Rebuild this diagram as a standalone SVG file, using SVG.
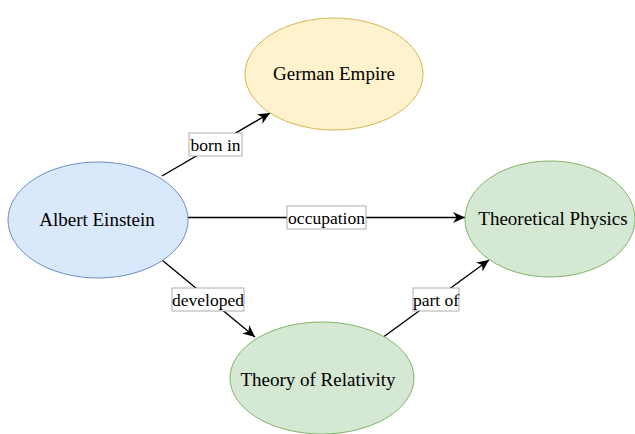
<svg xmlns="http://www.w3.org/2000/svg" width="635" height="434" viewBox="0 0 635 434">
<defs>
<marker id="arr" markerUnits="userSpaceOnUse" markerWidth="14" markerHeight="12" refX="12" refY="5.5" orient="auto">
<path d="M0,0 L12,5.5 L0,11 L3.5,5.5 z" fill="#000"/>
</marker>
<style>
.node text{font-family:"Liberation Serif","Times New Roman",serif;font-size:19px;fill:#000;text-anchor:middle}
.blue{fill:#dae8fc;stroke:#6c8ebf;stroke-width:1}
.yellow{fill:#fff2cc;stroke:#d6b656;stroke-width:1}
.green{fill:#d5e8d4;stroke:#82b366;stroke-width:1}
.edge{stroke:#000;stroke-width:1.4;fill:none;marker-end:url(#arr)}
.lbl rect{fill:#fff;stroke:#999;stroke-width:0.8}
.lbl text{font-family:"Liberation Serif","Times New Roman",serif;font-size:17.5px;fill:#000;text-anchor:middle}
</style>
</defs>
<rect width="635" height="434" fill="#fff"/>
<g id="connectors">
<line class="edge" x1="162" y1="176" x2="270" y2="113"/>
<line class="edge" x1="188" y1="217.5" x2="465" y2="217.5"/>
<line class="edge" x1="162" y1="260" x2="255" y2="337"/>
<line class="edge" x1="382" y1="338" x2="489" y2="260"/>
<g class="lbl"><rect x="189" y="133" width="53" height="23"/><text x="215.5" y="150.5">born in</text></g>
<g class="lbl"><rect x="287" y="206" width="79" height="23"/><text x="326.5" y="223.5">occupation</text></g>
<g class="lbl"><rect x="172" y="288" width="72" height="23"/><text x="208" y="305.5">developed</text></g>
<g class="lbl"><rect x="413" y="288" width="46" height="23"/><text x="436" y="305.5">part of</text></g>
</g>
<g id="albert-einstein" class="node"><ellipse class="blue" cx="98" cy="220" rx="90" ry="58"/><text x="97" y="226">Albert Einstein</text></g>
<g id="german-empire" class="node"><ellipse class="yellow" cx="334" cy="74" rx="89" ry="56"/><text x="334" y="80">German Empire</text></g>
<g id="theoretical-physics" class="node"><ellipse class="green" cx="550" cy="219" rx="85" ry="58"/><text x="553" y="225">Theoretical Physics</text></g>
<g id="theory-of-relativity" class="node"><ellipse class="green" cx="322" cy="378" rx="92" ry="56"/><text x="318" y="386">Theory of Relativity</text></g>
</svg>
